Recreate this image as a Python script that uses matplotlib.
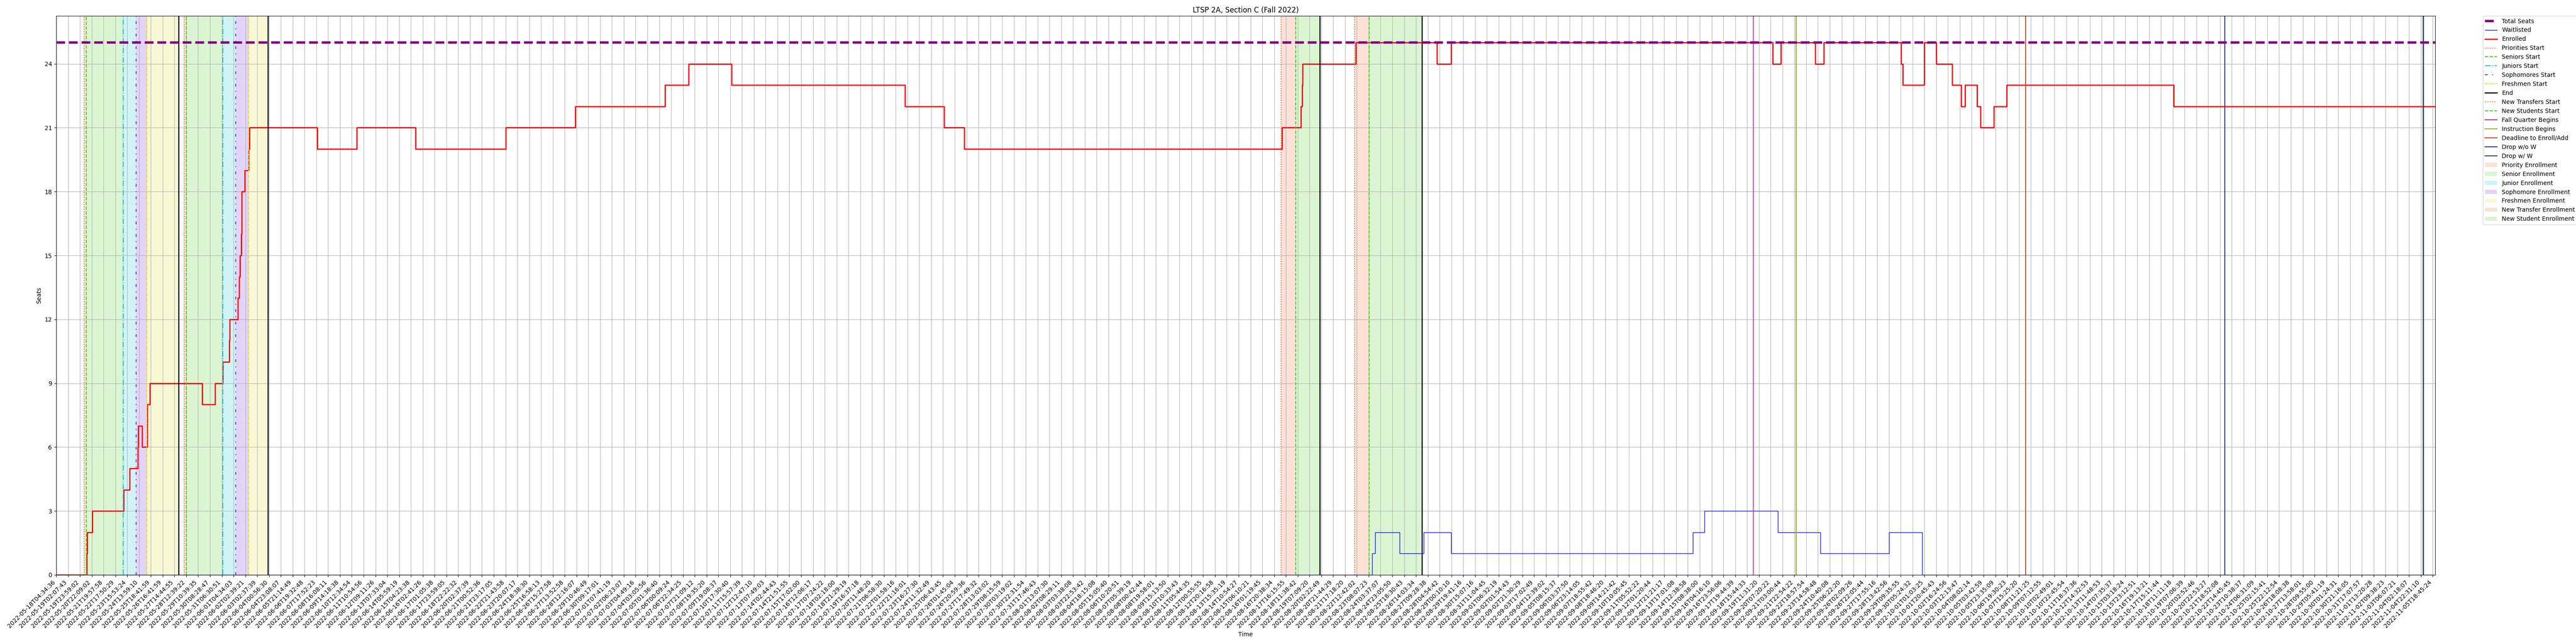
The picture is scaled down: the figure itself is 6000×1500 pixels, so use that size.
import matplotlib
matplotlib.use("Agg")
import matplotlib.pyplot as plt
from matplotlib.patches import Patch
from matplotlib.lines import Line2D
import numpy as np

# ---------------- data ----------------
title = "LTSP 2A, Section C (Fall 2022)"

tick_labels = [
    "2022-05-18T04:34:36", "2022-05-19T02:07:43", "2022-05-19T23:59:02", "2022-05-20T22:09:02",
    "2022-05-21T19:57:58", "2022-05-22T17:50:29", "2022-05-23T15:53:24", "2022-05-24T13:59:10",
    "2022-05-25T18:41:59", "2022-05-26T16:41:59", "2022-05-27T14:44:55", "2022-05-28T12:39:22",
    "2022-05-29T10:39:35", "2022-05-30T08:28:47", "2022-05-31T06:30:51", "2022-06-01T04:34:03",
    "2022-06-02T02:39:21", "2022-06-03T02:37:39", "2022-06-04T00:56:30", "2022-06-04T23:08:07",
    "2022-06-05T21:14:49", "2022-06-06T19:32:48", "2022-06-07T17:52:23", "2022-06-08T16:08:11",
    "2022-06-09T14:18:38", "2022-06-10T12:34:54", "2022-06-11T10:54:56", "2022-06-12T09:11:26",
    "2022-06-13T07:33:04", "2022-06-14T05:59:19", "2022-06-15T04:23:38", "2022-06-16T02:41:26",
    "2022-06-17T01:05:38", "2022-06-17T23:59:05", "2022-06-18T22:22:32", "2022-06-20T02:37:39",
    "2022-06-21T00:52:36", "2022-06-21T23:17:05", "2022-06-22T21:43:58", "2022-06-23T20:07:17",
    "2022-06-24T18:38:30", "2022-06-25T16:58:13", "2022-06-26T15:27:58", "2022-06-27T13:52:58",
    "2022-06-28T12:16:07", "2022-06-29T10:46:49", "2022-06-30T09:17:01", "2022-07-01T07:41:19",
    "2022-07-02T06:23:07", "2022-07-03T04:49:16", "2022-07-04T03:05:56", "2022-07-05T01:36:40",
    "2022-07-06T00:09:24", "2022-07-06T22:34:25", "2022-07-07T21:09:12", "2022-07-08T19:35:20",
    "2022-07-09T19:08:37", "2022-07-10T17:30:40", "2022-07-11T15:57:39", "2022-07-12T12:47:10",
    "2022-07-13T07:49:03", "2022-07-14T02:44:43", "2022-07-14T21:51:55", "2022-07-15T17:02:00",
    "2022-07-16T12:06:17", "2022-07-17T07:24:22", "2022-07-18T02:18:00", "2022-07-18T21:29:19",
    "2022-07-19T16:37:18", "2022-07-20T11:48:20", "2022-07-21T06:58:30", "2022-07-22T01:58:16",
    "2022-07-22T21:16:01", "2022-07-23T16:27:30", "2022-07-24T11:32:49", "2022-07-25T06:43:45",
    "2022-07-26T01:45:04", "2022-07-26T20:59:36", "2022-07-27T17:49:32", "2022-07-28T13:03:02",
    "2022-07-29T08:15:59", "2022-07-30T03:19:02", "2022-07-30T22:31:54", "2022-07-31T17:46:43",
    "2022-08-01T13:07:30", "2022-08-02T08:29:11", "2022-08-03T03:38:08", "2022-08-03T22:53:42",
    "2022-08-04T18:15:08", "2022-08-05T15:05:40", "2022-08-06T10:20:51", "2022-08-07T05:39:19",
    "2022-08-08T00:42:44", "2022-08-08T19:58:01", "2022-08-09T15:13:50", "2022-08-10T10:33:43",
    "2022-08-11T05:44:35", "2022-08-12T00:55:55", "2022-08-12T20:16:58", "2022-08-13T15:35:19",
    "2022-08-14T10:54:27", "2022-08-15T06:10:21", "2022-08-16T01:19:45", "2022-08-16T20:38:34",
    "2022-08-17T16:15:55", "2022-08-18T11:38:42", "2022-08-19T07:09:20", "2022-08-20T02:22:49",
    "2022-08-20T21:44:29", "2022-08-21T17:18:20", "2022-08-22T12:42:02", "2022-08-23T08:07:23",
    "2022-08-24T03:37:07", "2022-08-24T23:05:50", "2022-08-25T18:30:43", "2022-08-26T14:03:34",
    "2022-08-27T09:28:38", "2022-08-28T04:54:42", "2022-08-29T00:10:10", "2022-08-29T19:41:16",
    "2022-08-30T15:07:16", "2022-08-31T11:04:45", "2022-09-01T06:32:19", "2022-09-02T01:54:43",
    "2022-09-02T21:30:29", "2022-09-03T17:02:49", "2022-09-04T12:39:02", "2022-09-05T08:15:37",
    "2022-09-06T03:37:50", "2022-09-06T23:14:05", "2022-09-07T18:55:42", "2022-09-08T18:46:20",
    "2022-09-09T14:21:42", "2022-09-10T10:05:45", "2022-09-11T05:52:22", "2022-09-12T01:20:44",
    "2022-09-12T21:21:17", "2022-09-13T17:01:08", "2022-09-14T12:38:58", "2022-09-15T08:38:00",
    "2022-09-16T04:16:10", "2022-09-16T23:56:06", "2022-09-17T19:44:39", "2022-09-18T15:44:33",
    "2022-09-19T11:31:20", "2022-09-20T07:20:22", "2022-09-21T03:00:44", "2022-09-21T22:54:22",
    "2022-09-22T18:57:54", "2022-09-23T14:58:48", "2022-09-24T10:40:08", "2022-09-25T06:22:20",
    "2022-09-26T02:09:26", "2022-09-26T22:05:44", "2022-09-27T17:55:16", "2022-09-28T13:42:56",
    "2022-09-29T09:35:55", "2022-09-30T05:24:32", "2022-10-01T01:03:25", "2022-10-01T20:45:43",
    "2022-10-02T16:24:56", "2022-10-03T12:13:47", "2022-10-04T08:02:14", "2022-10-05T03:42:59",
    "2022-10-05T23:35:09", "2022-10-06T19:30:23", "2022-10-07T15:25:20", "2022-10-08T11:21:25",
    "2022-10-09T07:12:55", "2022-10-10T02:49:01", "2022-10-10T22:45:54", "2022-10-11T18:37:36",
    "2022-10-12T14:32:53", "2022-10-13T11:48:53", "2022-10-14T07:35:37", "2022-10-15T03:18:24",
    "2022-10-15T23:12:51", "2022-10-16T19:13:21", "2022-10-17T15:11:44", "2022-10-18T11:11:18",
    "2022-10-19T07:06:39", "2022-10-20T02:52:46", "2022-10-20T22:53:27", "2022-10-21T18:52:08",
    "2022-10-22T14:45:45", "2022-10-23T10:38:37", "2022-10-24T06:31:09", "2022-10-25T02:15:41",
    "2022-10-25T22:12:54", "2022-10-26T18:08:38", "2022-10-27T13:58:01", "2022-10-28T09:55:00",
    "2022-10-29T05:41:19", "2022-10-30T01:24:31", "2022-10-30T21:16:05", "2022-10-31T17:07:57",
    "2022-11-01T13:20:28", "2022-11-02T09:38:23", "2022-11-03T06:07:21", "2022-11-04T02:18:07",
    "2022-11-04T22:31:10", "2022-11-05T18:45:24",
]

# sample positions (in units of labelled-tick index) where counts change
last_sample = 201.2
total_seats = 25

enrolled_pos = [0, 2.58, 2.63, 3.05, 5.69, 6.20, 6.89, 6.95, 7.26, 7.71, 7.93,
                12.35, 13.43, 14.10, 14.64, 14.67, 15.35, 15.48, 15.55, 15.66, 15.68,
                15.70, 15.94, 16.28, 16.33,
                22.06, 25.4, 30.4, 38.0, 43.9, 51.5, 53.5, 57.1, 71.8, 75.1, 76.8,
                103.67, 105.26, 105.36, 105.41, 109.90, 116.79, 117.98,
                145.19, 145.86, 148.78, 149.49, 156.03, 156.17, 157.99, 159.01,
                160.35, 161.10, 161.45, 162.45, 162.74, 163.89, 164.97, 179.1]
enrolled_val = [0, 1, 2, 3, 4, 5, 6, 7, 6, 8, 9,
                8, 9, 10, 11, 12, 13, 14, 15, 16, 17,
                18, 19, 20, 21,
                20, 21, 20, 21, 22, 23, 24, 23, 22, 21, 20,
                21, 22, 23, 24, 25, 24, 25,
                24, 25, 24, 25, 24, 23, 25, 24,
                23, 22, 23, 22, 21, 22, 23, 22]

waitlist_pos = [0, 111.29, 111.54, 113.63, 115.64, 117.98, 138.4, 139.4, 145.6,
                149.2, 155.0, 157.8]
waitlist_val = [0, 1, 2, 1, 2, 1, 2, 3, 2, 1, 2, 0]

priorities_start = [2.35, 10.81]
seniors_start = [2.53, 10.99]
juniors_start = [5.65, 14.08]
sophomores_start = [6.75, 15.18]
freshmen_start = [7.66, 16.27]
pass_end = [10.34, 17.90]
new_transfers_start = [103.59, 109.80]
new_students_start = [104.83, 111.04]
new_end = [106.86, 115.50]
fall_quarter_begins = 143.53
instruction_begins = 147.15
deadline_enroll_add = 166.55
drop_without_w = 183.4
drop_with_w = 200.17

# ---------------- styles ----------------
c_prio = "#ec6a36"
c_sen = "#4ccc1e"
c_jun = "#14c3d6"
c_soph = "#6a2cd8"
c_fresh = "#dcdc30"
c_fall = "#d4169a"
c_instr = "#90b41c"
c_dead = "#cc4420"
c_dropno = "#2c2c88"
c_dropw = "#2e3d5e"
span_alpha = 0.2

fig = plt.figure(figsize=(60, 15), dpi=100)
ax = fig.add_axes([131 / 6000, 1 - 1339 / 1500, (5672 - 131) / 6000, (1339 - 37) / 1500])

wx = list(waitlist_pos) + [last_sample]
wy = list(waitlist_val) + [waitlist_val[-1]]
ax.plot(wx, wy, color="blue", lw=1.0, drawstyle="steps-post", zorder=2)

ex = list(enrolled_pos) + [last_sample]
ey = list(enrolled_val) + [enrolled_val[-1]]
ax.plot(ex, ey, color="red", lw=2.0, drawstyle="steps-post", zorder=2)

ax.axhline(total_seats, color="purple", lw=4, ls="--", zorder=3)

vlines = [
    (priorities_start, c_prio, ":", 1.5),
    (seniors_start, c_sen, "--", 1.5),
    (juniors_start, c_jun, "-.", 1.5),
    (sophomores_start, c_soph, (0, (3, 5, 1, 5)), 1.5),
    (freshmen_start, c_fresh, (0, (3, 1, 1, 1)), 1.5),
    (pass_end, "black", "-", 1.8),
    (new_transfers_start, c_prio, ":", 1.5),
    (new_students_start, c_sen, "--", 1.5),
    (new_end, "black", "-", 1.8),
    ([fall_quarter_begins], c_fall, "-", 1.2),
    ([instruction_begins], c_instr, "-", 1.8),
    ([deadline_enroll_add], c_dead, "-", 1.5),
    ([drop_without_w], c_dropno, "-", 1.5),
    ([drop_with_w], c_dropw, "-", 2.0),
]
for xs, col, ls, lw in vlines:
    for xv in xs:
        ax.axvline(xv, color=col, ls=ls, lw=lw, zorder=2.2)

for i in range(len(priorities_start)):
    ax.axvspan(priorities_start[i], seniors_start[i], color=c_prio, alpha=span_alpha, lw=0, zorder=1)
    ax.axvspan(seniors_start[i], juniors_start[i], color=c_sen, alpha=span_alpha, lw=0, zorder=1)
    ax.axvspan(juniors_start[i], sophomores_start[i], color=c_jun, alpha=span_alpha, lw=0, zorder=1)
    ax.axvspan(sophomores_start[i], freshmen_start[i], color=c_soph, alpha=span_alpha, lw=0, zorder=1)
    ax.axvspan(freshmen_start[i], pass_end[i], color=c_fresh, alpha=span_alpha, lw=0, zorder=1)
for i in range(len(new_transfers_start)):
    ax.axvspan(new_transfers_start[i], new_students_start[i], color=c_prio, alpha=span_alpha, lw=0, zorder=1)
    ax.axvspan(new_students_start[i], new_end[i], color=c_sen, alpha=span_alpha, lw=0, zorder=1)

ax.set_xlim(0, last_sample)
ax.set_ylim(0, total_seats * 1.05)
ax.set_yticks(np.arange(0, 25, 3))
ax.set_xticks(np.arange(len(tick_labels)))
ax.set_xticklabels(tick_labels, rotation=45, ha="right")
ax.grid(True)
ax.set_title(title)
ax.set_xlabel("Time")
ax.set_ylabel("Seats")

handles = [
    Line2D([], [], color="purple", lw=4, ls="--"),
    Line2D([], [], color="blue", lw=1.0),
    Line2D([], [], color="red", lw=2.0),
    Line2D([], [], color=c_prio, ls=":", lw=1.5),
    Line2D([], [], color=c_sen, ls="--", lw=1.5),
    Line2D([], [], color=c_jun, ls="-.", lw=1.5),
    Line2D([], [], color=c_soph, ls=(0, (3, 5, 1, 5)), lw=1.5),
    Line2D([], [], color=c_fresh, ls=(0, (3, 1, 1, 1)), lw=1.5),
    Line2D([], [], color="black", lw=1.8),
    Line2D([], [], color=c_prio, ls=":", lw=1.5),
    Line2D([], [], color=c_sen, ls="--", lw=1.5),
    Line2D([], [], color=c_fall, lw=1.5),
    Line2D([], [], color=c_instr, lw=1.5),
    Line2D([], [], color=c_dead, lw=1.5),
    Line2D([], [], color=c_dropno, lw=1.5),
    Line2D([], [], color=c_dropw, lw=1.5),
    Patch(facecolor=c_prio, alpha=span_alpha),
    Patch(facecolor=c_sen, alpha=span_alpha),
    Patch(facecolor=c_jun, alpha=span_alpha),
    Patch(facecolor=c_soph, alpha=span_alpha),
    Patch(facecolor=c_fresh, alpha=span_alpha),
    Patch(facecolor=c_prio, alpha=span_alpha),
    Patch(facecolor=c_sen, alpha=span_alpha),
]
labels = ["Total Seats", "Waitlisted", "Enrolled", "Priorities Start", "Seniors Start",
          "Juniors Start", "Sophomores Start", "Freshmen Start", "End",
          "New Transfers Start", "New Students Start", "Fall Quarter Begins",
          "Instruction Begins", "Deadline to Enroll/Add", "Drop w/o W", "Drop w/ W",
          "Priority Enrollment", "Senior Enrollment", "Junior Enrollment",
          "Sophomore Enrollment", "Freshmen Enrollment", "New Transfer Enrollment",
          "New Student Enrollment"]
ax.legend(handles, labels, loc="upper left", bbox_to_anchor=(1.02, 1), borderaxespad=0)

fig.savefig("out.png", dpi=100)
